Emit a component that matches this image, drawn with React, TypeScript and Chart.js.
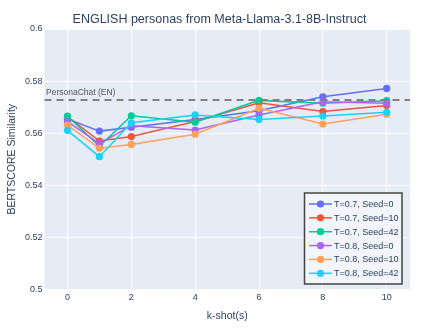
import React, { useEffect, useRef } from "react";
import { Chart, registerables } from "chart.js";

Chart.register(...registerables);

const kShots = [0, 1, 2, 4, 6, 8, 10];
const seriesLabels = [
  "T=0.7, Seed=0",
  "T=0.7, Seed=10",
  "T=0.7, Seed=42",
  "T=0.8, Seed=0",
  "T=0.8, Seed=10",
  "T=0.8, Seed=42",
];
const t07seed0 = [0.5655, 0.5608, 0.5623, 0.5653, 0.5686, 0.574, 0.5772];
const t07seed10 = [0.5664, 0.557, 0.5587, 0.5645, 0.5717, 0.5683, 0.5706];
const t07seed42 = [0.5666, 0.555, 0.5667, 0.5642, 0.5726, 0.5715, 0.5725];
const t08seed0 = [0.5644, 0.556, 0.5629, 0.5612, 0.567, 0.5721, 0.5715];
const t08seed10 = [0.5631, 0.5542, 0.5557, 0.5596, 0.5696, 0.5635, 0.5673];
const t08seed42 = [0.5611, 0.551, 0.564, 0.567, 0.5653, 0.5666, 0.568];
const seriesValues = [t07seed0, t07seed10, t07seed42, t08seed0, t08seed10, t08seed42];
const seriesColors = ["#636efa", "#EF553B", "#00cc96", "#ab63fa", "#FFA15A", "#19d3f3"];

const referenceLabel = "PersonaChat (EN)";
const referenceValue = 0.5727;

const xTicks = [0, 2, 4, 6, 8, 10];
const yTicks = [0.5, 0.52, 0.54, 0.56, 0.58, 0.6];

const titleText = "ENGLISH personas from Meta-Llama-3.1-8B-Instruct";
const xTitle = "k-shot(s)";
const yTitle = "BERTSCORE Similarity";

const FONT = "'Liberation Sans', Arial, Helvetica, sans-serif";
const TEXT = "#2a3f5f";

const plotBg = {
  id: "plotBg",
  beforeDraw(chart: any) {
    const { ctx, chartArea } = chart;
    ctx.save();
    ctx.fillStyle = "#E5ECF6";
    ctx.fillRect(chartArea.left, chartArea.top, chartArea.right - chartArea.left, chartArea.bottom - chartArea.top);
    ctx.restore();
  },
};

const chartTitle = {
  id: "chartTitle",
  afterDraw(chart: any) {
    const { ctx } = chart;
    ctx.save();
    ctx.fillStyle = TEXT;
    ctx.font = `12.5px ${FONT}`;
    ctx.textAlign = "center";
    ctx.textBaseline = "middle";
    ctx.fillText(titleText, 219.5, 19.5);
    ctx.restore();
  },
};

const refLine = {
  id: "refLine",
  afterDatasetsDraw(chart: any) {
    const { ctx, chartArea, scales } = chart;
    const y = scales.y.getPixelForValue(referenceValue);
    ctx.save();
    ctx.strokeStyle = "#808080";
    ctx.lineWidth = 2;
    ctx.setLineDash([7, 5]);
    ctx.beginPath();
    ctx.moveTo(chartArea.left, y);
    ctx.lineTo(chartArea.right, y);
    ctx.stroke();
    ctx.setLineDash([]);
    ctx.fillStyle = "#555555";
    ctx.font = `8.5px ${FONT}`;
    ctx.textAlign = "left";
    ctx.textBaseline = "middle";
    ctx.fillText(referenceLabel, chartArea.left + 1.5, y - 7.5);
    ctx.restore();
  },
};

const boxLegend = {
  id: "boxLegend",
  afterDraw(chart: any) {
    const { ctx } = chart;
    const x0 = 304.5;
    const y0 = 193;
    const w = 97.5;
    const h = 91;
    ctx.save();
    ctx.fillStyle = "#f2f5fa";
    ctx.fillRect(x0, y0, w, h);
    ctx.strokeStyle = "#444444";
    ctx.lineWidth = 1.5;
    ctx.strokeRect(x0, y0, w, h);
    ctx.font = `9px ${FONT}`;
    ctx.textAlign = "left";
    ctx.textBaseline = "middle";
    seriesLabels.forEach((label, i) => {
      const cy = 204 + i * 13.86;
      ctx.strokeStyle = seriesColors[i];
      ctx.lineWidth = 1.5;
      ctx.beginPath();
      ctx.moveTo(309, cy);
      ctx.lineTo(332, cy);
      ctx.stroke();
      ctx.fillStyle = seriesColors[i];
      ctx.beginPath();
      ctx.arc(320.5, cy, 3.6, 0, Math.PI * 2);
      ctx.fill();
      ctx.fillStyle = TEXT;
      ctx.fillText(label, 334, cy + 0.5);
    });
    ctx.restore();
  },
};

export default function App() {
  const ref = useRef<HTMLCanvasElement | null>(null);
  useEffect(() => {
    if (!ref.current) return;
    Chart.defaults.font.family = FONT;
    Chart.defaults.color = TEXT;
    const chart = new Chart(ref.current, {
      type: "line",
      data: {
        datasets: seriesLabels.map((label, i) => ({
          label,
          data: kShots.map((k, j) => ({ x: k, y: seriesValues[i][j] })),
          borderColor: seriesColors[i],
          backgroundColor: seriesColors[i],
          borderWidth: 1.5,
          pointRadius: 3.6,
          pointBorderWidth: 0,
          pointBackgroundColor: seriesColors[i],
          tension: 0,
          order: seriesLabels.length - i,
        })),
      },
      options: {
        responsive: false,
        animation: false,
        devicePixelRatio: 1,
        layout: { padding: { top: 29, right: 29, bottom: 0, left: 0 } },
        plugins: {
          legend: { display: false },
          tooltip: { enabled: false },
          title: { display: false },
        },
        scales: {
          x: {
            type: "linear",
            min: -0.72,
            max: 10.73,
            afterBuildTicks: (scale: any) => {
              scale.ticks = xTicks.map((v) => ({ value: v }));
            },
            afterFit: (scale: any) => {
              scale.height = 39.5;
            },
            grid: { color: "#ffffff", lineWidth: 1, drawTicks: false },
            border: { display: false },
            ticks: {
              color: TEXT,
              font: { size: 9, family: FONT },
              padding: 3,
              maxRotation: 0,
              callback: (v: any) => String(v),
            },
            title: {
              display: true,
              text: xTitle,
              color: TEXT,
              font: { size: 10.5, family: FONT },
              padding: { top: 0, bottom: 6.5 },
            },
          },
          y: {
            type: "linear",
            min: 0.5,
            max: 0.6,
            afterBuildTicks: (scale: any) => {
              scale.ticks = yTicks.map((v) => ({ value: v }));
            },
            afterFit: (scale: any) => {
              scale.width = 44.5;
            },
            grid: { color: "#ffffff", lineWidth: 1, drawTicks: false },
            border: { display: false },
            ticks: {
              color: TEXT,
              font: { size: 9, family: FONT },
              padding: 2,
              callback: (v: any) => String(Number(Number(v).toFixed(2))),
            },
            title: {
              display: true,
              text: yTitle,
              color: TEXT,
              font: { size: 10.5, family: FONT },
              padding: { top: 5.5, bottom: 0 },
            },
          },
        },
      },
      plugins: [plotBg, refLine, boxLegend, chartTitle],
    } as any);
    return () => chart.destroy();
  }, []);
  return (
    <div style={{ position: "absolute", left: 0, top: 0, width: 439, height: 329, background: "#fff" }}>
      <canvas ref={ref} width={439} height={329} style={{ display: "block" }} />
    </div>
  );
}
